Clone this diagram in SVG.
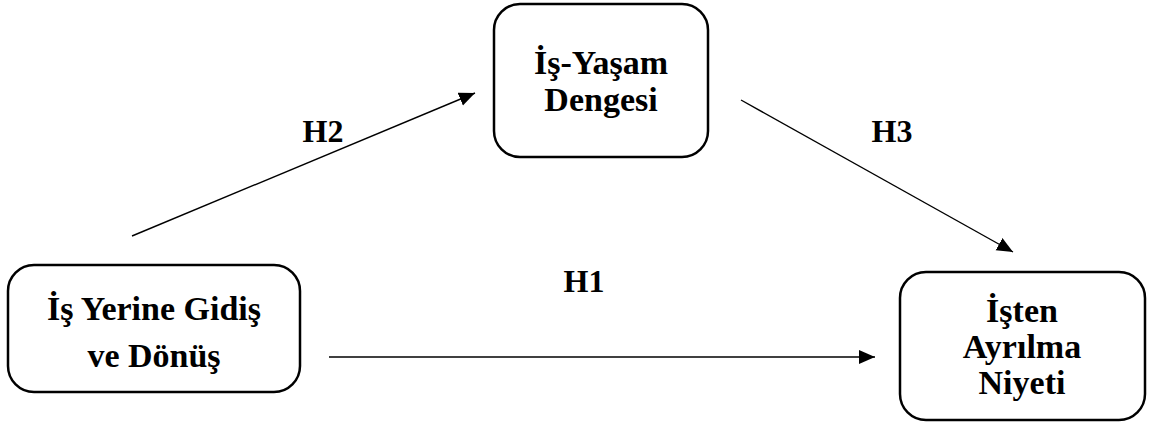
<svg xmlns="http://www.w3.org/2000/svg" width="1153" height="425" viewBox="0 0 1153 425">
<style>
.box{fill:#fff;stroke:#000;stroke-width:2.5}
.t{font-family:"Liberation Serif","Times New Roman",serif;font-weight:bold;font-size:34px;fill:#000;text-anchor:middle}
.l{font-family:"Liberation Serif","Times New Roman",serif;font-weight:bold;font-size:32px;fill:#000;text-anchor:middle}
.c{stroke:#000;stroke-width:1.4;fill:none}
</style>
<defs>
<marker id="ah" markerUnits="userSpaceOnUse" markerWidth="17" markerHeight="15" refX="16" refY="7" orient="auto">
<path d="M0,0 L16,7 L0,14 z" fill="#000"/>
</marker>
</defs>
<rect width="1153" height="425" fill="#fff"/>
<g id="connectors">
<line class="c" x1="132" y1="236" x2="475" y2="93" marker-end="url(#ah)"/>
<line class="c" x1="741" y1="100" x2="1013" y2="252" marker-end="url(#ah)"/>
<line class="c" x1="329" y1="357" x2="875" y2="357" marker-end="url(#ah)"/>
<text class="l" x="323" y="142">H2</text>
<text class="l" x="892" y="142">H3</text>
<text class="l" x="584" y="292">H1</text>
</g>
<g id="node-isyasam">
<rect class="box" x="494" y="4" width="214" height="153" rx="26"/>
<text class="t" x="601" y="74">İş-Yaşam</text>
<text class="t" x="601" y="111">Dengesi</text>
</g>
<g id="node-isyerine">
<rect class="box" x="8" y="265" width="292" height="127" rx="26"/>
<text class="t" x="154" y="320">İş Yerine Gidiş</text>
<text class="t" x="154" y="367">ve Dönüş</text>
</g>
<g id="node-istenayrilma">
<rect class="box" x="900" y="272" width="245" height="148" rx="26"/>
<text class="t" x="1022" y="322">İşten</text>
<text class="t" x="1022" y="358">Ayrılma</text>
<text class="t" x="1022" y="394">Niyeti</text>
</g>
</svg>
